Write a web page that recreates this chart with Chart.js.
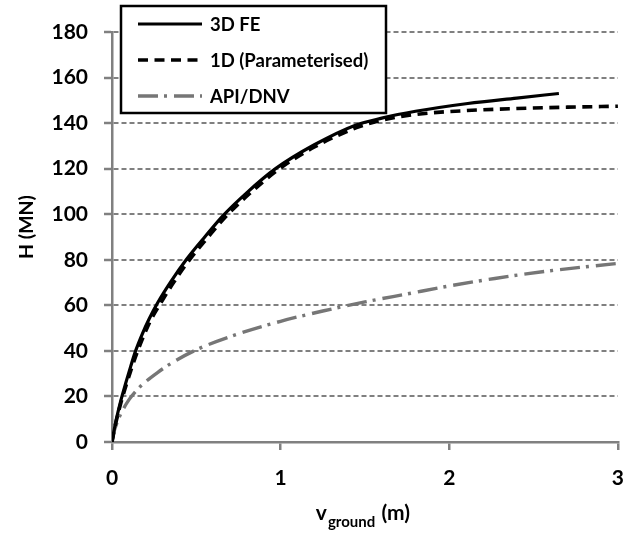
<!DOCTYPE html>
<html>
<head>
<meta charset="utf-8">
<script src="https://cdn.jsdelivr.net/npm/chart.js@4.4.1/dist/chart.umd.min.js"></script>
<style>
html,body{margin:0;padding:0;background:#fff;}
#wrap{width:640px;height:535px;}
</style>
</head>
<body>
<div id="wrap"><canvas id="c" width="640" height="535"></canvas></div>
<script>
// ---- data ----
const seriesNames = ["3D FE", "1D (Parameterised)", "API/DNV"];
const feX  = [0, 0.02, 0.05, 0.08, 0.11, 0.14, 0.18, 0.22, 0.27, 0.35, 0.44, 0.55, 0.66, 0.8, 0.97, 1.2, 1.44, 1.6, 1.8, 2.11, 2.4, 2.65];
const feY  = [0, 8, 17.5, 25.5, 33, 40, 47.5, 54, 61, 70.5, 80, 90, 99.5, 109.5, 120, 130.5, 139, 142.2, 145.2, 148.6, 151, 153];
const oneDX = [0, 0.02, 0.05, 0.08, 0.11, 0.15, 0.19, 0.23, 0.285, 0.365, 0.455, 0.565, 0.675, 0.815, 0.985, 1.2, 1.45, 1.6, 1.8, 2.1, 2.4, 2.7, 3.0];
const oneDY = [0, 7.5, 16.5, 24, 31, 39.5, 47, 53.5, 60.5, 70, 79.5, 89.5, 99, 109, 119.5, 129.5, 138, 141.3, 143.8, 145.5, 146.4, 147, 147.4];
const apiX = [0, 0.01, 0.03, 0.06, 0.1, 0.15, 0.2, 0.27, 0.35, 0.5, 0.75, 1.0, 1.25, 1.5, 1.75, 2.0, 2.27, 2.6, 3.0];
const apiY = [0, 4, 8.5, 13.5, 18.5, 23, 26.5, 30.5, 34.5, 40.5, 47.5, 53, 57.5, 61.5, 65, 68.5, 71.8, 75.2, 78.4];
const xTicks = [0, 1, 2, 3];
const yTicks = [0, 20, 40, 60, 80, 100, 120, 140, 160, 180];
const xTitleMain = "v", xTitleSub = "ground", xTitleTail = " (m)";
const yTitle = "H (MN)";

const pts = (xs, ys) => xs.map((x, i) => ({x: x, y: ys[i]}));
const FONT = "Lato, 'Open Sans', sans-serif";
const GRAY = "#808080";

const legendPlugin = {
  id: "boxLegend",
  afterDraw(chart) {
    const ctx = chart.ctx;
    ctx.save();
    ctx.fillStyle = "#fff";
    ctx.fillRect(121, 6, 265, 107);
    ctx.strokeStyle = "#000";
    ctx.lineWidth = 2.5;
    ctx.strokeRect(121, 6, 265, 107);
    const rows = [24, 60, 96];
    chart.data.datasets.forEach((ds, i) => {
      ctx.beginPath();
      ctx.setLineDash(ds.borderDash || []);
      ctx.strokeStyle = ds.borderColor;
      ctx.lineWidth = ds.borderWidth;
      ctx.moveTo(138, rows[i]);
      ctx.lineTo(202, rows[i]);
      ctx.stroke();
      ctx.setLineDash([]);
      ctx.fillStyle = "#000";
      ctx.font = "bold 18.5px " + FONT;
      ctx.textAlign = "left";
      ctx.textBaseline = "middle";
      ctx.fillText(ds.label, 210, rows[i] + 1);
    });
    // axis titles
    ctx.fillStyle = "#000";
    ctx.textBaseline = "alphabetic";
    const f1 = "bold 21px " + FONT, f2 = "bold 15px " + FONT;
    ctx.font = f1; const w1 = ctx.measureText(xTitleMain).width;
    ctx.font = f2; const w2 = ctx.measureText(xTitleSub).width;
    ctx.font = f1; const w3 = ctx.measureText(xTitleTail).width;
    const area = chart.chartArea;
    let x0 = (area.left + area.right) / 2 - 3 - (w1 + w2 + w3) / 2;
    ctx.textAlign = "left";
    ctx.font = f1; ctx.fillText(xTitleMain, x0, 520);
    ctx.font = f2; ctx.fillText(xTitleSub, x0 + w1 + 1, 526.5);
    ctx.font = f1; ctx.fillText(xTitleTail, x0 + w1 + w2 + 2, 520);
    ctx.translate(33, 227);
    ctx.rotate(-Math.PI / 2);
    ctx.textAlign = "center";
    ctx.textBaseline = "alphabetic";
    ctx.font = "bold 19.5px " + FONT;
    ctx.fillText(yTitle, 0, 0);
    ctx.restore();
  }
};

new Chart(document.getElementById("c"), {
  type: "scatter",
  data: {
    datasets: [
      {label: seriesNames[0], data: pts(feX, feY), showLine: true, borderColor: "#000", borderWidth: 3.2,
       borderDash: [], pointRadius: 0, cubicInterpolationMode: "monotone"},
      {label: seriesNames[1], data: pts(oneDX, oneDY), showLine: true, borderColor: "#000", borderWidth: 3.6,
       borderDash: [10, 6.5], pointRadius: 0, cubicInterpolationMode: "monotone"},
      {label: seriesNames[2], data: pts(apiX, apiY), showLine: true, borderColor: "#767676", borderWidth: 3.4,
       borderDash: [20, 6, 3, 7], pointRadius: 0, cubicInterpolationMode: "monotone"}
    ]
  },
  options: {
    responsive: false,
    animation: false,
    events: [],
    layout: {padding: {top: 32, right: 20, left: 0, bottom: 0}},
    plugins: {legend: {display: false}, tooltip: {enabled: false}, title: {display: false}},
    scales: {
      x: {
        type: "linear", min: 0, max: 3,
        afterFit(s) { s.height = 93; },
        afterBuildTicks(s) { s.ticks = xTicks.map(v => ({value: v})); },
        grid: {drawOnChartArea: false, drawTicks: true, tickLength: 8, color: GRAY, lineWidth: 2.5},
        border: {display: true, color: GRAY, width: 2.5},
        ticks: {color: "#000", font: {family: FONT, size: 21, weight: "bold"}, padding: 16, maxRotation: 0}
      },
      y: {
        type: "linear", min: 0, max: 180,
        afterFit(s) { s.width = 112; },
        afterBuildTicks(s) { s.ticks = yTicks.map(v => ({value: v})); },
        grid: {color: GRAY, lineWidth: 2, tickBorderDash: [], tickLength: 8, tickWidth: 2.5, tickColor: GRAY},
        border: {display: true, color: GRAY, width: 2.5, dash: [5, 3]},
        ticks: {color: "#000", font: {family: FONT, size: 21, weight: "bold"}, padding: 16}
      }
    }
  },
  plugins: [legendPlugin]
});
</script>
</body>
</html>
